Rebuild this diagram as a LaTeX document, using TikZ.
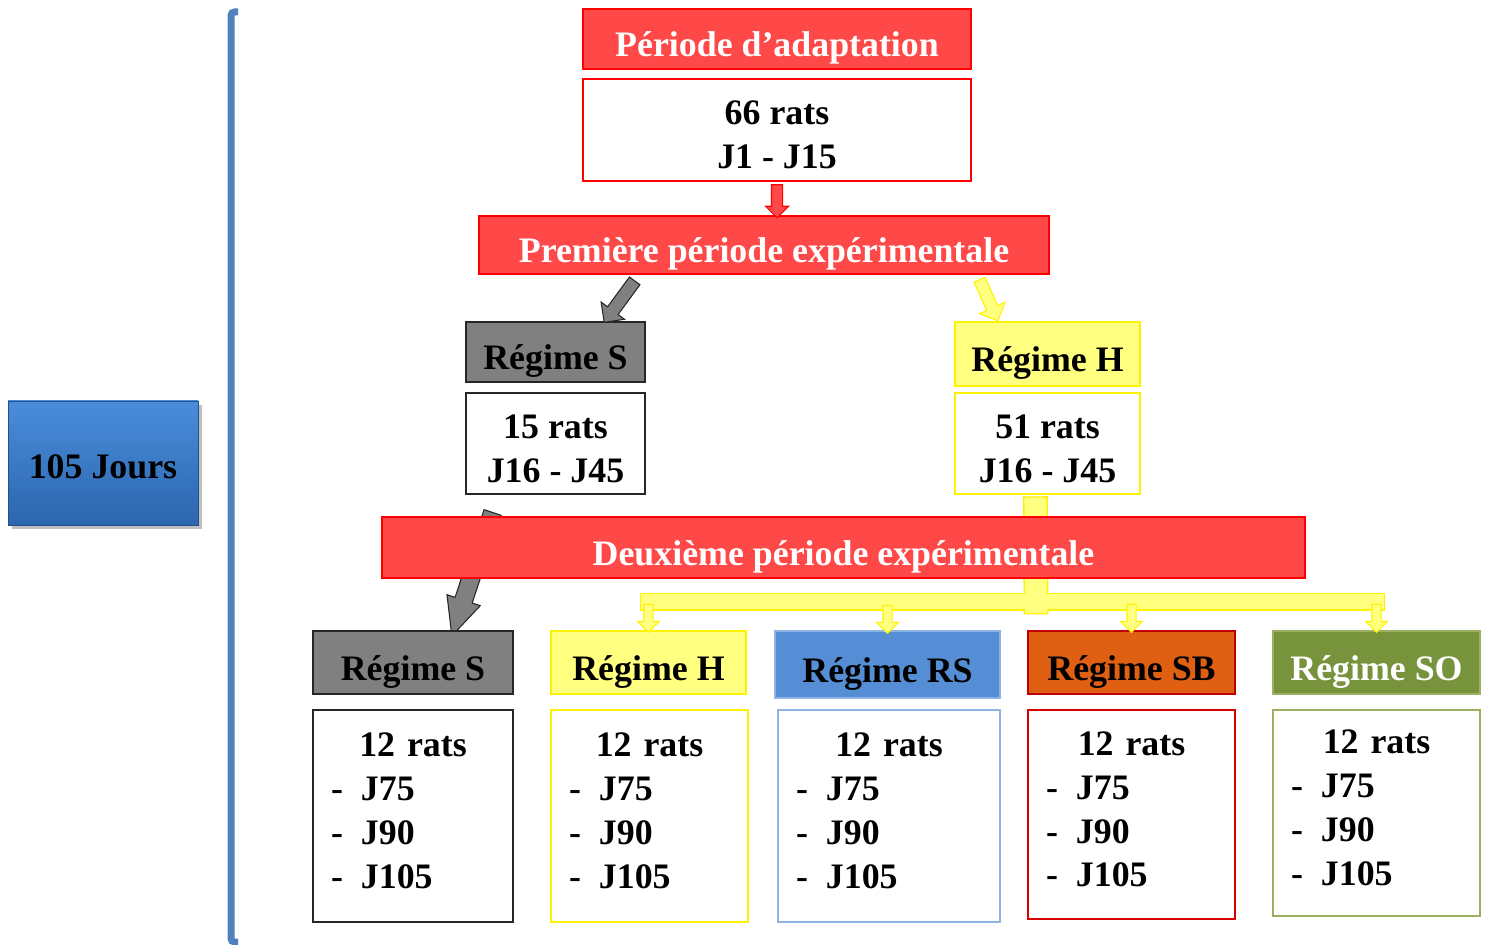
\documentclass[tikz,border=0pt]{standalone}
\usepackage{fontspec}
\setmainfont{Liberation Serif}
\usetikzlibrary{calc,shapes.arrows,shadows,backgrounds}

\definecolor{rouge}{HTML}{FF4848}
\definecolor{gris}{HTML}{808080}
\definecolor{jaune}{HTML}{FFFF80}
\definecolor{bleu}{HTML}{558ED5}
\definecolor{bleuclair}{HTML}{8EB4E3}
\definecolor{orange}{HTML}{DF5F13}
\definecolor{olive}{HTML}{77933C}
\definecolor{oliveclair}{HTML}{9BB061}
\definecolor{acier}{HTML}{4F81BD}
\definecolor{ciel}{HTML}{4A8DDB}
\definecolor{marine}{HTML}{2C66AE}

\newcommand{\listerats}{\makebox[\hsize]{12 rats}\\%
	\makebox[0.6cm][l]{-}J75\\\makebox[0.6cm][l]{-}J90\\\makebox[0.6cm][l]{-}J105}

\begin{document}
\begin{tikzpicture}[
	x=0.02cm, y=-0.02cm,
	every node/.style = {font=\fontsize{20.4}{25}\selectfont\bfseries, inner ysep=0pt, text height=24.5pt, text depth=4.1pt},
	sz/.style 2 args = {minimum width=#1*0.02cm, minimum height=#2*0.02cm},
	titre/.style = {rectangle, draw=red, fill=rouge, text=white, line width=0.8pt},
	cadre/.style = {rectangle, draw=#1, fill=white, line width=0.8pt, align=center, text height=48.3pt},
	liste/.style = {text width=#1*0.02cm, align=left, text height=24.5pt, text depth=92pt},
	rS/.style = {rectangle, draw=black!85, fill=gris, text=black, line width=0.8pt},
	rH/.style = {rectangle, draw=yellow, fill=jaune, line width=0.8pt},
	rRS/.style = {rectangle, draw=bleuclair, fill=bleu, line width=0.8pt},
	rSB/.style = {rectangle, draw=red!75!black, fill=orange, line width=0.8pt},
	rSO/.style = {rectangle, draw=oliveclair, fill=olive, text=white, line width=0.8pt},
	jours/.style = {rectangle, draw=marine!80!black, top color=ciel, bottom color=marine, drop shadow, text height=22pt},
	fl/.style = {single arrow, sloped, allow upside down, inner xsep=0pt, text height=0pt, text depth=0pt, line width=0.6pt},
	rfl/.style = {fl, draw=red, fill=rouge, inner ysep=0.1cm, single arrow head extend=0.12cm, minimum height=0.66cm},
	gfl/.style = {fl, draw=black!85, fill=gris, inner ysep=0.12cm, single arrow head extend=0.16cm, minimum height=1.03cm},
	yfl/.style = {fl, draw=yellow, fill=jaune, inner ysep=0.11cm, single arrow head extend=0.16cm, minimum height=0.9cm},
	sfl/.style = {fl, draw=yellow, fill=jaune, inner ysep=0.08cm, single arrow head extend=0.13cm, minimum height=0.56cm},
	bfl/.style = {fl, draw=black!85, fill=gris, inner ysep=0.17cm, single arrow head extend=0.17cm, single arrow tip angle=50, minimum height=2.6cm},
	ybord/.style = {yellow, line cap=rect, line width=#1*0.02cm+1.6pt},
	yfond/.style = {jaune, line cap=rect, line width=#1*0.02cm}
	]
	\useasboundingbox (0,0) rectangle (1488,945);

	%Nodes
	\node[jours, sz={190}{124}]	(jrs)	at	(103, 463)		{105 Jours};
	\node[titre, sz={388}{60}]	(adapt)	at	(777, 39)		{Période d’adaptation};
	\node[cadre=red, sz={388}{102}]	(adaptd)	at	(777, 130)		{66 rats\\J1 - J15};
	\node[titre, sz={570}{58}]	(prem)	at	(764, 245)		{Première période expérimentale};
	\node[rS, sz={179}{60}]	(s1)	at	(555.5, 352)	{Régime S};
	\node[cadre=black!85, sz={179}{101}]	(s1d)	at	(555.5, 443.5)	{15 rats\\J16 - J45};
	\node[rH, sz={185}{64}]	(h1)	at	(1047.5, 354)	{Régime H};
	\node[cadre=yellow, sz={185}{101}]	(h1d)	at	(1047.5, 443.5)	{51 rats\\J16 - J45};
	\node[titre, sz={923}{61}]	(deux)	at	(843.5, 547.5)	{Deuxième période expérimentale};

	\node[rS, sz={200}{63}]	(bS)	at	(413, 662.5)	{Régime S};
	\node[rH, sz={195}{63}]	(bH)	at	(648.5, 662.5)	{Régime H};
	\node[rRS, sz={225}{67}]	(bRS)	at	(887.5, 664.5)	{Régime RS};
	\node[rSB, sz={207}{63}]	(bSB)	at	(1131.5, 662.5)	{Régime SB};
	\node[rSO, sz={207}{63}]	(bSO)	at	(1376.5, 662.5)	{Régime SO};

	\node[cadre=black!85, sz={200}{212}, liste=164]	(dS)	at	(413, 816)		{\listerats};
	\node[cadre=yellow, sz={197}{212}, liste=161]	(dH)	at	(649.5, 816)	{\listerats};
	\node[cadre=bleuclair, sz={222}{212}, liste=186]	(dRS)	at	(889, 816)		{\listerats};
	\node[cadre=red!85!black, sz={207}{209}, liste=171]	(dSB)	at	(1131.5, 814.5)	{\listerats};
	\node[cadre=oliveclair, sz={207}{206}, liste=171]	(dSO)	at	(1376.5, 813)	{\listerats};
	\coordinate	(fourche)	at	(1036, 602);

	%Bracket
	\draw[acier, line width=0.14cm, rounded corners=2pt] (238, 12) -- (231, 12) -- (231, 942) -- (238, 942);

	%Lines
	\path	(adaptd.south)	to	node[rfl] {}	(adaptd.south |- prem.north);
	\path	($(prem.south west)+(158, 4)$)	to	node[gfl] {}	($(s1.north)+(51, -2)$);
	\path	($(prem.south east)+(-71, 3)$)	to	node[yfl] {}	($(h1.north west)+(42, -4)$);
	\begin{pgfonlayer}{background}
		\path	($(s1d.south)+(-60, 9)$)	to	node[bfl] {}	($(bS.north)+(42, -4)$);
		\draw[ybord=22]	($(h1d.south)+(-12, 14)$)	--	(fourche);
		\draw[ybord=15]	(bH.north |- fourche)	--	(bSO.north |- fourche);
		\draw[yfond=22]	($(h1d.south)+(-12, 14)$)	--	(fourche);
		\draw[yfond=15]	(bH.north |- fourche)	--	(bSO.north |- fourche);
	\end{pgfonlayer}
	\path	(bH.north |- fourche)	to	node[sfl] {}	(bH.north);
	\path	(bRS.north |- fourche)	to	node[sfl] {}	($(bRS.north)+(0, 2)$);
	\path	(bSB.north |- fourche)	to	node[sfl] {}	(bSB.north);
	\path	(bSO.north |- fourche)	to	node[sfl] {}	(bSO.north);
\end{tikzpicture}
\end{document}
